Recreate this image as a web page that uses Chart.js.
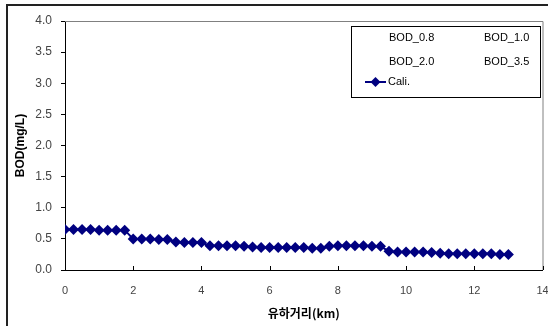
<!DOCTYPE html>
<html>
<head>
<meta charset="utf-8">
<script src="https://cdn.jsdelivr.net/npm/chart.js@4/dist/chart.umd.min.js"></script>
<style>
html,body{margin:0;padding:0;background:#fff;}
#wrap{width:548px;height:326px;}
</style>
</head>
<body>
<div id="wrap"><canvas id="bodChart" width="548" height="326"></canvas></div>
<script>
// distance along the river (km)
let distKm=[
0,0.25,0.5,0.75,1,1.25,1.5,1.75,
2,2.25,2.5,2.75,3,
3.25,3.5,3.75,4,
4.25,4.5,4.75,5,
5.25,5.5,5.75,6,6.25,6.5,6.75,7,7.25,7.5,
7.75,8,8.25,8.5,8.75,9,9.25,
9.5,9.75,10,10.25,10.5,10.75,11,11.25,11.5,11.75,12,12.25,12.5,12.75,13
]

// calibrated BOD (mg/L)
let caliBod=[
0.65,0.65,0.65,0.65,0.64,0.64,0.64,0.64,
0.50,0.50,0.50,0.49,0.49,
0.45,0.44,0.44,0.44,
0.39,0.39,0.39,0.39,
0.38,0.37,0.36,0.36,0.36,0.36,0.36,0.36,0.35,0.35,
0.38,0.39,0.39,0.39,0.39,0.38,0.38,
0.30,0.29,0.29,0.29,0.29,0.28,0.27,0.26,0.26,0.26,0.26,0.26,0.26,0.25,0.25
]

// scenario series shown only in the legend
let scenarioLabels=["BOD_0.8","BOD_1.0","BOD_2.0","BOD_3.5"]

let xTicks=[0,2,4,6,8,10,12,14]
let yTicks=[0,0.5,1,1.5,2,2.5,3,3.5,4]

let datasets=scenarioLabels.map(function(l){
return {label:l,data:[],showLine:false,pointRadius:0,borderWidth:0}
})
datasets.push({
label:"Cali.",
data:distKm.map(function(d,i){return {x:d,y:caliBod[i]}}),
borderColor:"#000080",
backgroundColor:"#000080",
borderWidth:2,
pointStyle:"rectRot",
pointRadius:5.5,
pointBorderWidth:0,
showLine:true
})

// chart frame, plot box, inner x ticks and legend box
let framePlugin={
id:"frame",
beforeDraw:function(chart){
let c=chart.ctx
c.save()
c.fillStyle="#fff"
c.fillRect(0,0,chart.width,chart.height)
c.strokeStyle="#222"
c.lineWidth=2
c.strokeRect(7,5,600,400)
c.restore()
},
afterDraw:function(chart){
let c=chart.ctx
let a=chart.chartArea
let xs=chart.scales.x
c.save()
// top and right edges of plot
c.strokeStyle="#808080"
c.lineWidth=1
c.beginPath()
c.moveTo(a.left,a.top+0.5)
c.lineTo(a.right+0.5,a.top+0.5)
c.lineTo(a.right+0.5,a.bottom)
c.stroke()
// x tick marks, inside
c.strokeStyle="#000"
c.beginPath()
xTicks.forEach(function(v){
let px=Math.round(xs.getPixelForValue(v))+0.5
c.moveTo(px,a.bottom)
c.lineTo(px,a.bottom-4)
})
c.stroke()
// legend
let bx=351.5,by=26.5,bw=189,bh=71
c.fillStyle="#fff"
c.fillRect(bx,by,bw,bh)
c.strokeStyle="#000"
c.lineWidth=1
c.strokeRect(bx,by,bw,bh)
c.font="11px 'Liberation Sans', Arial, sans-serif"
c.fillStyle="#000"
c.textBaseline="middle"
c.fillText(scenarioLabels[0],389,38)
c.fillText(scenarioLabels[1],484,38)
c.fillText(scenarioLabels[2],389,62)
c.fillText(scenarioLabels[3],484,62)
c.fillText("Cali.",388,82)
c.strokeStyle="#000080"
c.lineWidth=2
c.beginPath()
c.moveTo(365,82)
c.lineTo(386,82)
c.stroke()
c.fillStyle="#000080"
c.beginPath()
c.moveTo(375.5,77)
c.lineTo(380.5,82)
c.lineTo(375.5,87)
c.lineTo(370.5,82)
c.closePath()
c.fill()
c.restore()
}
}

new Chart(document.getElementById("bodChart"),{

type:"scatter",

data:{datasets:datasets},

options:{
responsive:false,
animation:false,
layout:{padding:{top:21,right:4,left:0,bottom:0}},
plugins:{legend:{display:false},tooltip:{enabled:false}},
scales:{
x:{
type:"linear",
min:0,max:14,
afterBuildTicks:function(s){s.ticks=xTicks.map(function(v){return {value:v}})},
afterFit:function(s){s.height=56;s.paddingRight=0;s.paddingLeft=0},
grid:{display:true,drawOnChartArea:false,drawTicks:false},
border:{color:"#000",width:1},
ticks:{padding:14,color:"#444",font:{family:"'Liberation Sans', Arial",size:11}},
title:{display:true,text:"유하거리(km)",color:"#000",
font:{family:"'Noto Sans CJK KR', sans-serif",size:12,weight:"bold"},padding:{top:0,bottom:5}}
},
y:{
min:0,max:4,
afterBuildTicks:function(s){s.ticks=yTicks.map(function(v){return {value:v}})},
afterFit:function(s){s.width=65;s.paddingTop=0;s.paddingBottom=0},
grid:{display:true,drawOnChartArea:false,drawTicks:true,tickLength:4,color:"#000"},
border:{color:"#000",width:1},
ticks:{padding:9,color:"#444",font:{family:"'Liberation Sans', Arial",size:12},
callback:function(v){return v.toFixed(1)}},
title:{display:true,text:"BOD(mg/L)",color:"#000",
font:{family:"'Liberation Sans', Arial",size:12,weight:"bold"},padding:{top:13,bottom:0}}
}
}
},

plugins:[framePlugin]

})
</script>
</body>
</html>
